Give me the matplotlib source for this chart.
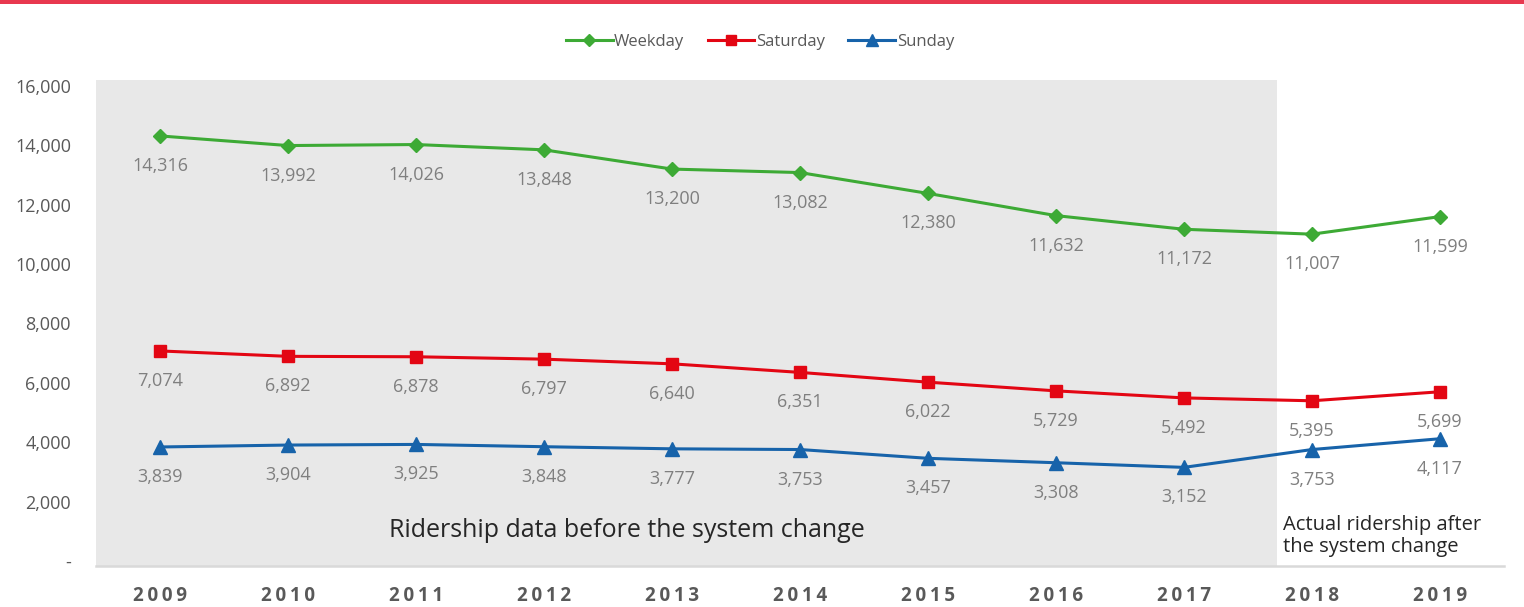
import matplotlib.pyplot as plt
import matplotlib.transforms as mtransforms
from matplotlib.patches import Rectangle
from matplotlib.ticker import FuncFormatter

years = ["2009", "2010", "2011", "2012", "2013", "2014", "2015", "2016", "2017", "2018", "2019"]
weekday = [14316, 13992, 14026, 13848, 13200, 13082, 12380, 11632, 11172, 11007, 11599]
saturday = [7074, 6892, 6878, 6797, 6640, 6351, 6022, 5729, 5492, 5395, 5699]
sunday = [3839, 3904, 3925, 3848, 3777, 3753, 3457, 3308, 3152, 3753, 4117]

plt.rcParams['font.family'] = ['Open Sans', 'DejaVu Sans']

fig = plt.figure(figsize=(15.24, 6.07), dpi=100)
ax = fig.add_axes([96 / 1524, 41 / 607, 1408 / 1524, 486 / 607])

# red rule across the top of the page
fig.add_artist(Rectangle((0, 1 - 4 / 607), 1, 4 / 607, transform=fig.transFigure,
                         color='#E8384F', lw=0))

x = list(range(len(years)))

# shaded period before the system change
ax.axvspan(-0.5, 8.73, ymin=0, ymax=1, color='#E8E8E8', lw=0, zorder=0)

series = [
    ("Weekday", weekday, '#3DAA35', 'D', 7),
    ("Saturday", saturday, '#E30613', 's', 8.5),
    ("Sunday", sunday, '#1763AA', '^', 9.5),
]
for name, vals, col, mk, ms in series:
    ax.plot(x, vals, color=col, lw=2.2, marker=mk, markersize=ms, label=name, zorder=3)
    for xi, v in zip(x, vals):
        ax.annotate(f"{v:,}", (xi, v), xytext=(0, -30), textcoords='offset pixels',
                    ha='center', va='center', fontsize=13, color='#7F7F7F', zorder=4)

ax.set_xlim(-0.5, 10.5)
ax.set_ylim(-170, 16200)
ax.set_yticks(range(0, 16001, 2000))
ax.yaxis.set_major_formatter(FuncFormatter(lambda v, p: "-" if v == 0 else f"{int(v):,}"))
ax.tick_params(axis='y', length=0, pad=18, labelsize=13, labelcolor='#595959')
ax.set_xticks(x)
ax.set_xticklabels([])
ax.tick_params(axis='x', length=0)

# year labels, bold with letter spacing
trans = mtransforms.blended_transform_factory(ax.transData, ax.transAxes)
for xi, y in zip(x, years):
    ax.text(xi, -0.061, "\u2009".join(y), transform=trans, ha='center', va='center',
            fontsize=13.5, fontweight='bold', color='#595959', family='Open Sans')

for s in ['top', 'right', 'left']:
    ax.spines[s].set_visible(False)
ax.spines['bottom'].set_color('#D9D9D9')
ax.spines['bottom'].set_linewidth(1.8)
ax.spines['bottom'].set_position(('data', -170))

ax.text(3.65, 1030, "Ridership data before the system change", ha='center', va='center',
        fontsize=18, color='#262626')
ax.text(8.77, 830, "Actual ridership after\nthe system change", ha='left', va='center',
        fontsize=14.5, color='#262626', linespacing=1.15)

leg = fig.legend(loc='center', bbox_to_anchor=(760 / 1524, 1 - 42 / 607), ncol=3,
                 frameon=False, fontsize=12, handlelength=2.8, columnspacing=1.4,
                 handletextpad=0.1, labelcolor='#595959', markerscale=0.85)

fig.savefig("out.png", dpi=100)
